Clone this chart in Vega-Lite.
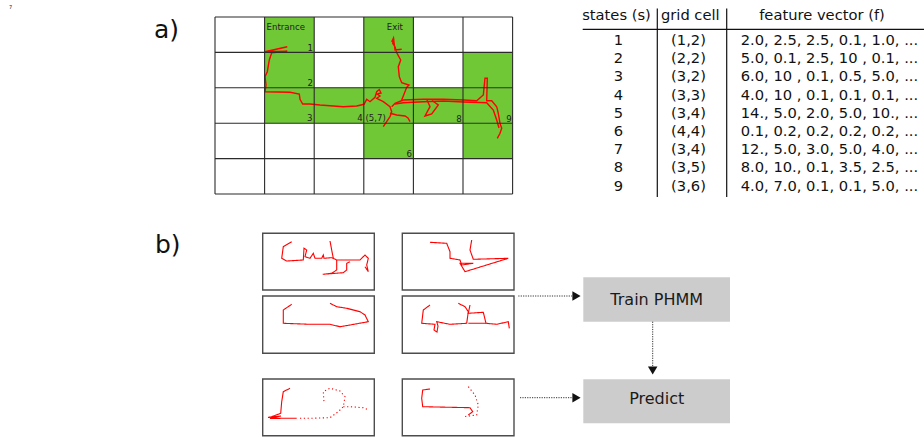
{
  "$schema": "https://vega.github.io/schema/vega-lite/v6.json",
  "width": 924,
  "height": 437,
  "padding": 0,
  "autosize": {"type": "none"},
  "background": "white",
  "config": {"view": {"stroke": null}, "font": "DejaVu Sans"},
  "datasets": {
    "cells": [
      {"x": 264.6, "x2": 314.2, "y": 17, "y2": 52.4},
      {"x": 363.8, "x2": 413.4, "y": 17, "y2": 52.4},
      {"x": 264.6, "x2": 314.2, "y": 52.4, "y2": 87.8},
      {"x": 363.8, "x2": 413.4, "y": 52.4, "y2": 87.8},
      {"x": 463, "x2": 512.6, "y": 52.4, "y2": 87.8},
      {"x": 264.6, "x2": 512.6, "y": 87.8, "y2": 123.2},
      {"x": 363.8, "x2": 413.4, "y": 123.2, "y2": 158.6},
      {"x": 463, "x2": 512.6, "y": 123.2, "y2": 158.6}
    ],
    "gridlines": [
      {"x": 215, "x2": 215, "y": 17, "y2": 194},
      {"x": 264.6, "x2": 264.6, "y": 17, "y2": 194},
      {"x": 314.2, "x2": 314.2, "y": 17, "y2": 194},
      {"x": 363.8, "x2": 363.8, "y": 17, "y2": 194},
      {"x": 413.4, "x2": 413.4, "y": 17, "y2": 194},
      {"x": 463, "x2": 463, "y": 17, "y2": 194},
      {"x": 512.6, "x2": 512.6, "y": 17, "y2": 194},
      {"x": 215, "x2": 512.6, "y": 17, "y2": 17},
      {"x": 215, "x2": 512.6, "y": 52.4, "y2": 52.4},
      {"x": 215, "x2": 512.6, "y": 87.8, "y2": 87.8},
      {"x": 215, "x2": 512.6, "y": 123.2, "y2": 123.2},
      {"x": 215, "x2": 512.6, "y": 158.6, "y2": 158.6},
      {"x": 215, "x2": 512.6, "y": 194, "y2": 194}
    ],
    "gridlabels": [
      {"t": "Entrance", "x": 266.5, "y": 26.7, "a": "left"},
      {"t": "Exit", "x": 386.7, "y": 27.3, "a": "left"},
      {"t": "1", "x": 313, "y": 47.7, "a": "right"},
      {"t": "2", "x": 313, "y": 82.7, "a": "right"},
      {"t": "3", "x": 312.5, "y": 118.3, "a": "right"},
      {"t": "4 (5,7)", "x": 357.3, "y": 118.3, "a": "left"},
      {"t": "8", "x": 461.7, "y": 119, "a": "right"},
      {"t": "9", "x": 511.7, "y": 119, "a": "right"},
      {"t": "6", "x": 412, "y": 154, "a": "right"}
    ],
    "track": [
      {"p": "g1", "i": 0, "x": 287.3, "y": 46.7},
      {"p": "g1", "i": 1, "x": 265, "y": 51.7},
      {"p": "g1", "i": 2, "x": 287.3, "y": 51.3},
      {"p": "g1", "i": 3, "x": 271.7, "y": 52.7},
      {"p": "g1", "i": 4, "x": 269.3, "y": 60},
      {"p": "g1", "i": 5, "x": 267.3, "y": 71.7},
      {"p": "g1", "i": 6, "x": 265, "y": 76.7},
      {"p": "g1", "i": 7, "x": 266, "y": 85},
      {"p": "g1", "i": 8, "x": 265, "y": 91.7},
      {"p": "g1", "i": 9, "x": 290, "y": 92.3},
      {"p": "g1", "i": 10, "x": 299.3, "y": 94},
      {"p": "g1", "i": 11, "x": 300, "y": 99.3},
      {"p": "g1", "i": 12, "x": 302.7, "y": 104},
      {"p": "g1", "i": 13, "x": 310, "y": 104},
      {"p": "g1", "i": 14, "x": 320, "y": 105},
      {"p": "g1", "i": 15, "x": 333.3, "y": 106},
      {"p": "g1", "i": 16, "x": 343.3, "y": 106.7},
      {"p": "g1", "i": 17, "x": 356.7, "y": 106},
      {"p": "g1", "i": 18, "x": 364, "y": 104.3},
      {"p": "g1", "i": 19, "x": 366.7, "y": 99.3},
      {"p": "g1", "i": 20, "x": 370, "y": 101.7},
      {"p": "g1", "i": 21, "x": 375, "y": 97.3},
      {"p": "g1", "i": 22, "x": 376.7, "y": 91.7},
      {"p": "g1", "i": 23, "x": 379.3, "y": 89.5},
      {"p": "g1", "i": 24, "x": 381, "y": 93},
      {"p": "g1", "i": 25, "x": 377, "y": 94},
      {"p": "g1", "i": 26, "x": 380, "y": 96},
      {"p": "g1", "i": 27, "x": 376.7, "y": 98.3},
      {"p": "g1", "i": 28, "x": 383.3, "y": 101.7},
      {"p": "g1", "i": 29, "x": 390, "y": 106.7},
      {"p": "g1", "i": 30, "x": 391.7, "y": 111.7},
      {"p": "g1", "i": 31, "x": 390, "y": 116.7},
      {"p": "g1", "i": 32, "x": 383.3, "y": 126.7},
      {"p": "g2", "i": 0, "x": 390, "y": 113.3},
      {"p": "g2", "i": 1, "x": 396.7, "y": 115},
      {"p": "g2", "i": 2, "x": 405, "y": 116},
      {"p": "g2", "i": 3, "x": 408, "y": 118},
      {"p": "g2", "i": 4, "x": 410, "y": 121.7},
      {"p": "g3", "i": 0, "x": 391.7, "y": 106.7},
      {"p": "g3", "i": 1, "x": 395, "y": 103.3},
      {"p": "g3", "i": 2, "x": 403.3, "y": 100},
      {"p": "g3", "i": 3, "x": 423.3, "y": 99.3},
      {"p": "g3", "i": 4, "x": 443.3, "y": 99.3},
      {"p": "g3", "i": 5, "x": 463.3, "y": 100},
      {"p": "g3", "i": 6, "x": 476.7, "y": 100.7},
      {"p": "g3", "i": 7, "x": 483.3, "y": 95},
      {"p": "g3", "i": 8, "x": 485, "y": 78.3},
      {"p": "g3", "i": 9, "x": 487.3, "y": 78.3},
      {"p": "g3", "i": 10, "x": 486.7, "y": 100.7},
      {"p": "g3", "i": 11, "x": 491.7, "y": 100.7},
      {"p": "g3", "i": 12, "x": 496.7, "y": 106.7},
      {"p": "g3", "i": 13, "x": 498.3, "y": 113.3},
      {"p": "g3", "i": 14, "x": 500, "y": 123.3},
      {"p": "g3", "i": 15, "x": 501.7, "y": 128.3},
      {"p": "g3", "i": 16, "x": 500, "y": 133.3},
      {"p": "g3", "i": 17, "x": 497.3, "y": 138.3},
      {"p": "g4", "i": 0, "x": 395, "y": 104},
      {"p": "g4", "i": 1, "x": 403.3, "y": 102.7},
      {"p": "g4", "i": 2, "x": 423.3, "y": 101.7},
      {"p": "g4", "i": 3, "x": 443.3, "y": 101},
      {"p": "g4", "i": 4, "x": 463.3, "y": 102},
      {"p": "g4", "i": 5, "x": 486.7, "y": 102.7},
      {"p": "g4", "i": 6, "x": 493.3, "y": 110},
      {"p": "g4", "i": 7, "x": 496.7, "y": 120},
      {"p": "g4", "i": 8, "x": 499, "y": 128},
      {"p": "g5", "i": 0, "x": 426.7, "y": 99.3},
      {"p": "g5", "i": 1, "x": 430, "y": 106.7},
      {"p": "g5", "i": 2, "x": 425, "y": 116},
      {"p": "g5", "i": 3, "x": 431.7, "y": 114},
      {"p": "g5", "i": 4, "x": 438.3, "y": 105},
      {"p": "g5", "i": 5, "x": 432, "y": 100.5},
      {"p": "g6", "i": 0, "x": 401.7, "y": 100},
      {"p": "g6", "i": 1, "x": 406.7, "y": 87.3},
      {"p": "g6", "i": 2, "x": 409, "y": 85},
      {"p": "g6", "i": 3, "x": 401.7, "y": 82.7},
      {"p": "g6", "i": 4, "x": 399.3, "y": 76.7},
      {"p": "g6", "i": 5, "x": 398.3, "y": 66.7},
      {"p": "g6", "i": 6, "x": 400.7, "y": 60},
      {"p": "g6", "i": 7, "x": 396.7, "y": 52.7},
      {"p": "g6", "i": 8, "x": 395, "y": 46.7},
      {"p": "g6", "i": 9, "x": 392.7, "y": 43.3},
      {"p": "g6", "i": 10, "x": 394, "y": 39.3},
      {"p": "g6", "i": 11, "x": 391.7, "y": 41.7},
      {"p": "g6", "i": 12, "x": 393.5, "y": 38},
      {"p": "g6", "i": 13, "x": 395, "y": 50},
      {"p": "g6", "i": 14, "x": 401.7, "y": 49.3}
    ],
    "thumbs": [
      {"x": 262.7, "x2": 374.3, "y": 233.3, "y2": 290},
      {"x": 402.3, "x2": 514, "y": 233.3, "y2": 290},
      {"x": 262.7, "x2": 374.3, "y": 296, "y2": 353.3},
      {"x": 402.3, "x2": 514, "y": 296, "y2": 353.3},
      {"x": 262.7, "x2": 374.3, "y": 379, "y2": 435.7},
      {"x": 402.3, "x2": 514, "y": 379, "y2": 435.7}
    ],
    "sketches": [
      {"p": "t1a", "s": "solid", "i": 0, "x": 291.7, "y": 241.7},
      {"p": "t1a", "s": "solid", "i": 1, "x": 283.3, "y": 246.7},
      {"p": "t1a", "s": "solid", "i": 2, "x": 281.7, "y": 258.3},
      {"p": "t1a", "s": "solid", "i": 3, "x": 286.7, "y": 261},
      {"p": "t1a", "s": "solid", "i": 4, "x": 303.3, "y": 260},
      {"p": "t1a", "s": "solid", "i": 5, "x": 304, "y": 248.3},
      {"p": "t1a", "s": "solid", "i": 6, "x": 306.7, "y": 250},
      {"p": "t1a", "s": "solid", "i": 7, "x": 305, "y": 256.7},
      {"p": "t1a", "s": "solid", "i": 8, "x": 310, "y": 258.3},
      {"p": "t1a", "s": "solid", "i": 9, "x": 313.3, "y": 253.3},
      {"p": "t1a", "s": "solid", "i": 10, "x": 315, "y": 258.3},
      {"p": "t1a", "s": "solid", "i": 11, "x": 321.7, "y": 258.3},
      {"p": "t1a", "s": "solid", "i": 12, "x": 323.3, "y": 255},
      {"p": "t1a", "s": "solid", "i": 13, "x": 324, "y": 258.3},
      {"p": "t1a", "s": "solid", "i": 14, "x": 331.7, "y": 257.7},
      {"p": "t1a", "s": "solid", "i": 15, "x": 336.7, "y": 260},
      {"p": "t1a", "s": "solid", "i": 16, "x": 360, "y": 260},
      {"p": "t1a", "s": "solid", "i": 17, "x": 365, "y": 255},
      {"p": "t1a", "s": "solid", "i": 18, "x": 368.3, "y": 258.3},
      {"p": "t1a", "s": "solid", "i": 19, "x": 366.7, "y": 265},
      {"p": "t1a", "s": "solid", "i": 20, "x": 368.3, "y": 271.7},
      {"p": "t1a", "s": "solid", "i": 21, "x": 365, "y": 266.7},
      {"p": "t1b", "s": "solid", "i": 0, "x": 330, "y": 241},
      {"p": "t1b", "s": "solid", "i": 1, "x": 331.7, "y": 250},
      {"p": "t1b", "s": "solid", "i": 2, "x": 333.3, "y": 258.3},
      {"p": "t1c", "s": "solid", "i": 0, "x": 336.7, "y": 260},
      {"p": "t1c", "s": "solid", "i": 1, "x": 336.7, "y": 270},
      {"p": "t1c", "s": "solid", "i": 2, "x": 331.7, "y": 273.3},
      {"p": "t1c", "s": "solid", "i": 3, "x": 322.7, "y": 274.3},
      {"p": "t1c", "s": "solid", "i": 4, "x": 343.3, "y": 272.7},
      {"p": "t1c", "s": "solid", "i": 5, "x": 346.7, "y": 270},
      {"p": "t1c", "s": "solid", "i": 6, "x": 346.7, "y": 263.3},
      {"p": "t1c", "s": "solid", "i": 7, "x": 350, "y": 261.7},
      {"p": "t2a", "s": "solid", "i": 0, "x": 430, "y": 242.3},
      {"p": "t2a", "s": "solid", "i": 1, "x": 446.7, "y": 243.3},
      {"p": "t2a", "s": "solid", "i": 2, "x": 450, "y": 251.7},
      {"p": "t2a", "s": "solid", "i": 3, "x": 450, "y": 258.3},
      {"p": "t2a", "s": "solid", "i": 4, "x": 460, "y": 260},
      {"p": "t2a", "s": "solid", "i": 5, "x": 461.7, "y": 265},
      {"p": "t2a", "s": "solid", "i": 6, "x": 473.3, "y": 263.3},
      {"p": "t2a", "s": "solid", "i": 7, "x": 460, "y": 263.3},
      {"p": "t2a", "s": "solid", "i": 8, "x": 465, "y": 271.7},
      {"p": "t2a", "s": "solid", "i": 9, "x": 508.3, "y": 258.3},
      {"p": "t2a", "s": "solid", "i": 10, "x": 473.3, "y": 259.3},
      {"p": "t2a", "s": "solid", "i": 11, "x": 470, "y": 250},
      {"p": "t2a", "s": "solid", "i": 12, "x": 471.7, "y": 240},
      {"p": "t3a", "s": "solid", "i": 0, "x": 291.7, "y": 304.3},
      {"p": "t3a", "s": "solid", "i": 1, "x": 283.3, "y": 310},
      {"p": "t3a", "s": "solid", "i": 2, "x": 283.3, "y": 323.3},
      {"p": "t3a", "s": "solid", "i": 3, "x": 310, "y": 324.3},
      {"p": "t3a", "s": "solid", "i": 4, "x": 330, "y": 324.3},
      {"p": "t3a", "s": "solid", "i": 5, "x": 340, "y": 326.7},
      {"p": "t3a", "s": "solid", "i": 6, "x": 350, "y": 325},
      {"p": "t3a", "s": "solid", "i": 7, "x": 368.3, "y": 321.7},
      {"p": "t3a", "s": "solid", "i": 8, "x": 365, "y": 315},
      {"p": "t3a", "s": "solid", "i": 9, "x": 360, "y": 311.7},
      {"p": "t3a", "s": "solid", "i": 10, "x": 346.7, "y": 308.3},
      {"p": "t3a", "s": "solid", "i": 11, "x": 336.7, "y": 306.7},
      {"p": "t3a", "s": "solid", "i": 12, "x": 330, "y": 303.3},
      {"p": "t4a", "s": "solid", "i": 0, "x": 430, "y": 305},
      {"p": "t4a", "s": "solid", "i": 1, "x": 423.3, "y": 310},
      {"p": "t4a", "s": "solid", "i": 2, "x": 421.7, "y": 323.3},
      {"p": "t4a", "s": "solid", "i": 3, "x": 435, "y": 324.3},
      {"p": "t4a", "s": "solid", "i": 4, "x": 434, "y": 330},
      {"p": "t4a", "s": "solid", "i": 5, "x": 437, "y": 332},
      {"p": "t4a", "s": "solid", "i": 6, "x": 438, "y": 326},
      {"p": "t4a", "s": "solid", "i": 7, "x": 436.7, "y": 321.7},
      {"p": "t4a", "s": "solid", "i": 8, "x": 450, "y": 324.3},
      {"p": "t4a", "s": "solid", "i": 9, "x": 466.7, "y": 323.3},
      {"p": "t4a", "s": "solid", "i": 10, "x": 468.3, "y": 311.7},
      {"p": "t4a", "s": "solid", "i": 11, "x": 465, "y": 306.7},
      {"p": "t4a", "s": "solid", "i": 12, "x": 458.3, "y": 303.3},
      {"p": "t4b", "s": "solid", "i": 0, "x": 470, "y": 305},
      {"p": "t4b", "s": "solid", "i": 1, "x": 468.3, "y": 313.3},
      {"p": "t4b", "s": "solid", "i": 2, "x": 483.3, "y": 312.3},
      {"p": "t4b", "s": "solid", "i": 3, "x": 486, "y": 323.3},
      {"p": "t4b", "s": "solid", "i": 4, "x": 496.7, "y": 324.3},
      {"p": "t4b", "s": "solid", "i": 5, "x": 508.3, "y": 321.7},
      {"p": "t4b", "s": "solid", "i": 6, "x": 509.3, "y": 328.3},
      {"p": "t4c", "s": "solid", "i": 0, "x": 468.3, "y": 323.3},
      {"p": "t4c", "s": "solid", "i": 1, "x": 486, "y": 323.3},
      {"p": "t5a", "s": "solid", "i": 0, "x": 290, "y": 388.3},
      {"p": "t5a", "s": "solid", "i": 1, "x": 283.3, "y": 391.7},
      {"p": "t5a", "s": "solid", "i": 2, "x": 281.7, "y": 401.7},
      {"p": "t5a", "s": "solid", "i": 3, "x": 280.7, "y": 413.3},
      {"p": "t5a", "s": "solid", "i": 4, "x": 271.7, "y": 416.7},
      {"p": "t5a", "s": "solid", "i": 5, "x": 268, "y": 417.5},
      {"p": "t5a", "s": "solid", "i": 6, "x": 281, "y": 416},
      {"p": "t5a", "s": "solid", "i": 7, "x": 270, "y": 418.5},
      {"p": "t5a", "s": "solid", "i": 8, "x": 281.7, "y": 418.3},
      {"p": "t5a", "s": "solid", "i": 9, "x": 296.7, "y": 418.3},
      {"p": "t5b", "s": "dotted", "i": 0, "x": 300, "y": 418.3},
      {"p": "t5b", "s": "dotted", "i": 1, "x": 310, "y": 418.3},
      {"p": "t5b", "s": "dotted", "i": 2, "x": 330, "y": 417.7},
      {"p": "t5b", "s": "dotted", "i": 3, "x": 338.3, "y": 411.7},
      {"p": "t5b", "s": "dotted", "i": 4, "x": 343.3, "y": 406.7},
      {"p": "t5b", "s": "dotted", "i": 5, "x": 345, "y": 396.7},
      {"p": "t5b", "s": "dotted", "i": 6, "x": 340, "y": 391},
      {"p": "t5b", "s": "dotted", "i": 7, "x": 330, "y": 388.3},
      {"p": "t5b", "s": "dotted", "i": 8, "x": 323.3, "y": 391.7},
      {"p": "t5b", "s": "dotted", "i": 9, "x": 324, "y": 402.3},
      {"p": "t5c", "s": "dotted", "i": 0, "x": 343.3, "y": 406.7},
      {"p": "t5c", "s": "dotted", "i": 1, "x": 350, "y": 406.7},
      {"p": "t5c", "s": "dotted", "i": 2, "x": 363.3, "y": 407.7},
      {"p": "t5c", "s": "dotted", "i": 3, "x": 368.3, "y": 410},
      {"p": "t6a", "s": "solid", "i": 0, "x": 430, "y": 389},
      {"p": "t6a", "s": "solid", "i": 1, "x": 422.7, "y": 390},
      {"p": "t6a", "s": "solid", "i": 2, "x": 421.7, "y": 398.3},
      {"p": "t6a", "s": "solid", "i": 3, "x": 422.7, "y": 406.7},
      {"p": "t6a", "s": "solid", "i": 4, "x": 470, "y": 407.7},
      {"p": "t6a", "s": "solid", "i": 5, "x": 472.7, "y": 411.7},
      {"p": "t6a", "s": "solid", "i": 6, "x": 468.3, "y": 415},
      {"p": "t6b", "s": "dotted", "i": 0, "x": 468.3, "y": 386.7},
      {"p": "t6b", "s": "dotted", "i": 1, "x": 475, "y": 395},
      {"p": "t6b", "s": "dotted", "i": 2, "x": 478.3, "y": 405},
      {"p": "t6b", "s": "dotted", "i": 3, "x": 476.7, "y": 415},
      {"p": "t6b", "s": "dotted", "i": 4, "x": 463.3, "y": 416.7}
    ],
    "table": [
      {"s": "1", "g": "(1,2)", "f": "2.0, 2.5, 2.5, 0.1, 1.0, ...", "y": 41},
      {"s": "2", "g": "(2,2)", "f": "5.0, 0.1, 2.5, 10 , 0.1, ...", "y": 59.2},
      {"s": "3", "g": "(3,2)", "f": "6.0, 10 , 0.1, 0.5, 5.0, ...", "y": 77.4},
      {"s": "4", "g": "(3,3)", "f": "4.0, 10 , 0.1, 0.1, 0.1, ...", "y": 95.6},
      {"s": "5", "g": "(3,4)", "f": "14., 5.0, 2.0, 5.0, 10., ...", "y": 113.8},
      {"s": "6", "g": "(4,4)", "f": "0.1, 0.2, 0.2, 0.2, 0.2, ...", "y": 132},
      {"s": "7", "g": "(3,4)", "f": "12., 5.0, 3.0, 5.0, 4.0, ...", "y": 150.2},
      {"s": "8", "g": "(3,5)", "f": "8.0, 10., 0.1, 3.5, 2.5, ...", "y": 168.4},
      {"s": "9", "g": "(3,6)", "f": "4.0, 7.0, 0.1, 0.1, 5.0, ...", "y": 186.6}
    ],
    "tablerules": [
      {"x": 582.7, "x2": 924, "y": 29.3, "y2": 29.3},
      {"x": 657.3, "x2": 657.3, "y": 8.5, "y2": 197},
      {"x": 726.7, "x2": 726.7, "y": 8.5, "y2": 197}
    ],
    "headers": [
      {"t": "states (s)", "x": 616.5},
      {"t": "grid cell", "x": 690.3},
      {"t": "feature vector (f)", "x": 822}
    ],
    "steps": [
      {"t": "Train PHMM", "x": 583.3, "x2": 730, "cx": 656.7, "y": 277.3, "y2": 321.7, "ty": 299.5},
      {"t": "Predict", "x": 583.3, "x2": 730, "cx": 656.7, "y": 379.3, "y2": 423.3, "ty": 399}
    ],
    "arrows": [
      {"x": 518.3, "x2": 572, "y": 296, "y2": 296},
      {"x": 520, "x2": 572, "y": 397.7, "y2": 397.7},
      {"x": 652.7, "x2": 652.7, "y": 321.7, "y2": 366}
    ],
    "heads": [
      {"d": "right", "x": 576.5, "y": 296},
      {"d": "right", "x": 576.5, "y": 397.7},
      {"d": "down", "x": 652.7, "y": 370.5}
    ],
    "panels": [
      {"t": "a)", "x": 154, "y": 30, "sz": 25},
      {"t": "b)", "x": 155, "y": 245, "sz": 25},
      {"t": "7", "x": 9, "y": 7, "sz": 5}
    ]
  },
  "layer": [
    {
      "data": {"name": "cells"},
      "mark": {"type": "rect", "color": "#71c837"},
      "encoding": {
        "x": {"field": "x", "type": "quantitative", "scale": {"domain": [0, 924], "nice": false, "zero": false}, "axis": null},
        "x2": {"field": "x2"},
        "y": {"field": "y", "type": "quantitative", "scale": {"domain": [0, 437], "nice": false, "zero": false, "reverse": true}, "axis": null},
        "y2": {"field": "y2"}
      }
    },
    {
      "data": {"name": "track"},
      "mark": {"type": "line", "color": "#ff0000", "strokeWidth": 1.4, "interpolate": "linear"},
      "encoding": {
        "x": {"field": "x", "type": "quantitative"},
        "y": {"field": "y", "type": "quantitative"},
        "detail": {"field": "p"},
        "order": {"field": "i"}
      }
    },
    {
      "data": {"name": "gridlines"},
      "mark": {"type": "rule", "color": "#2b2b2b", "strokeWidth": 1.1},
      "encoding": {
        "x": {"field": "x", "type": "quantitative"},
        "x2": {"field": "x2"},
        "y": {"field": "y", "type": "quantitative"},
        "y2": {"field": "y2"}
      }
    },
    {
      "data": {"name": "gridlabels"},
      "transform": [{"filter": "datum.a == 'left'"}],
      "mark": {"type": "text", "fontSize": 8.6, "align": "left", "baseline": "middle", "color": "#222"},
      "encoding": {
        "x": {"field": "x", "type": "quantitative"},
        "y": {"field": "y", "type": "quantitative"},
        "text": {"field": "t"}
      }
    },
    {
      "data": {"name": "gridlabels"},
      "transform": [{"filter": "datum.a == 'right'"}],
      "mark": {"type": "text", "fontSize": 8.6, "align": "right", "baseline": "middle", "color": "#222"},
      "encoding": {
        "x": {"field": "x", "type": "quantitative"},
        "y": {"field": "y", "type": "quantitative"},
        "text": {"field": "t"}
      }
    },
    {
      "data": {"name": "tablerules"},
      "mark": {"type": "rule", "color": "#111", "strokeWidth": 1.2},
      "encoding": {
        "x": {"field": "x", "type": "quantitative"},
        "x2": {"field": "x2"},
        "y": {"field": "y", "type": "quantitative"},
        "y2": {"field": "y2"}
      }
    },
    {
      "data": {"name": "headers"},
      "mark": {"type": "text", "fontSize": 14.7, "align": "center", "baseline": "middle", "color": "#111", "y": {"expr": "scale('y', 15.5)"}},
      "encoding": {
        "x": {"field": "x", "type": "quantitative"},
        "text": {"field": "t"}
      }
    },
    {
      "data": {"name": "table"},
      "mark": {"type": "text", "fontSize": 14.7, "align": "center", "baseline": "middle", "color": "#111", "x": {"expr": "scale('x', 618.3)"}},
      "encoding": {
        "y": {"field": "y", "type": "quantitative"},
        "text": {"field": "s"}
      }
    },
    {
      "data": {"name": "table"},
      "mark": {"type": "text", "fontSize": 14.7, "align": "center", "baseline": "middle", "color": "#111", "x": {"expr": "scale('x', 688.5)"}},
      "encoding": {
        "y": {"field": "y", "type": "quantitative"},
        "text": {"field": "g"}
      }
    },
    {
      "data": {"name": "table"},
      "mark": {"type": "text", "fontSize": 14.7, "align": "left", "baseline": "middle", "color": "#111", "x": {"expr": "scale('x', 740.7)"}},
      "encoding": {
        "y": {"field": "y", "type": "quantitative"},
        "text": {"field": "f"}
      }
    },
    {
      "data": {"name": "thumbs"},
      "mark": {"type": "rect", "fill": "white", "stroke": "#4d4d4d", "strokeWidth": 1.4},
      "encoding": {
        "x": {"field": "x", "type": "quantitative"},
        "x2": {"field": "x2"},
        "y": {"field": "y", "type": "quantitative"},
        "y2": {"field": "y2"}
      }
    },
    {
      "data": {"name": "sketches"},
      "mark": {"type": "line", "color": "#ff0000", "strokeWidth": 1.1},
      "encoding": {
        "x": {"field": "x", "type": "quantitative"},
        "y": {"field": "y", "type": "quantitative"},
        "detail": {"field": "p"},
        "order": {"field": "i"},
        "strokeDash": {"field": "s", "type": "nominal", "scale": {"domain": ["solid", "dotted"], "range": [[1, 0], [1.2, 2.6]]}, "legend": null}
      }
    },
    {
      "data": {"name": "steps"},
      "mark": {"type": "rect", "color": "#cccccc"},
      "encoding": {
        "x": {"field": "x", "type": "quantitative"},
        "x2": {"field": "x2"},
        "y": {"field": "y", "type": "quantitative"},
        "y2": {"field": "y2"}
      }
    },
    {
      "data": {"name": "steps"},
      "mark": {"type": "text", "fontSize": 16, "align": "center", "baseline": "middle", "color": "#1a1a1a"},
      "encoding": {
        "x": {"field": "cx", "type": "quantitative"},
        "y": {"field": "ty", "type": "quantitative"},
        "text": {"field": "t"}
      }
    },
    {
      "data": {"name": "arrows"},
      "mark": {"type": "rule", "color": "#333", "strokeWidth": 1, "strokeDash": [1.2, 1.2]},
      "encoding": {
        "x": {"field": "x", "type": "quantitative"},
        "x2": {"field": "x2"},
        "y": {"field": "y", "type": "quantitative"},
        "y2": {"field": "y2"}
      }
    },
    {
      "data": {"name": "heads"},
      "mark": {"type": "point", "filled": true, "color": "#111", "opacity": 1, "size": 90},
      "encoding": {
        "x": {"field": "x", "type": "quantitative"},
        "y": {"field": "y", "type": "quantitative"},
        "shape": {"field": "d", "type": "nominal", "scale": {"domain": ["right", "down"], "range": ["triangle-right", "triangle-down"]}, "legend": null}
      }
    },
    {
      "data": {"name": "panels"},
      "mark": {"type": "text", "align": "left", "baseline": "middle", "color": "#111"},
      "encoding": {
        "x": {"field": "x", "type": "quantitative"},
        "y": {"field": "y", "type": "quantitative"},
        "text": {"field": "t"},
        "size": {"field": "sz", "type": "quantitative", "scale": null}
      }
    }
  ]
}
